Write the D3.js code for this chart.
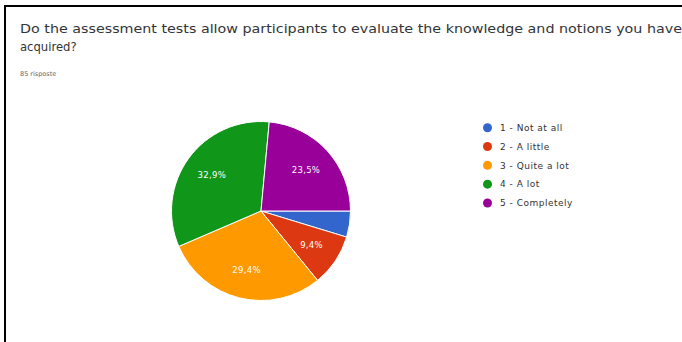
<!DOCTYPE html>
<html>
<head>
<meta charset="utf-8">
<script src="https://cdn.jsdelivr.net/npm/d3@7"></script>
<style>
  html, body { margin: 0; padding: 0; background: #fff; }
  svg { display: block; font-family: "DejaVu Sans", Roboto, Arial, sans-serif; }
</style>
</head>
<body>
<svg id="chart" width="682" height="342"></svg>
<script>
// Survey answers (85 responses)
const categories = ["1 - Not at all", "2 - A little", "3 - Quite a lot", "4 - A lot", "5 - Completely"];
const counts = [4, 8, 25, 28, 20];
const colors = ["#3366cc", "#dc3912", "#ff9900", "#109618", "#990099"];
const questionLines = [
  "Do the assessment tests allow participants to evaluate the knowledge and notions you have",
  "acquired?"
];
const responsesLabel = "85 risposte";

const svg = d3.select("#chart");
const W = 682, H = 342;

svg.append("rect").attr("width", W).attr("height", H).attr("fill", "#fff");

// Frame lines of the card
svg.append("line").attr("x1", 4).attr("x2", W).attr("y1", 6).attr("y2", 6)
  .attr("stroke", "#000").attr("stroke-width", 2);
svg.append("line").attr("x1", 5).attr("x2", 5).attr("y1", 5).attr("y2", H)
  .attr("stroke", "#000").attr("stroke-width", 2);

// Question title
const title = svg.append("g").attr("fill", "#333438");
title.append("text").attr("x", 20).attr("y", 33).attr("font-size", 11.6)
  .attr("textLength", 662).attr("lengthAdjust", "spacingAndGlyphs")
  .text(questionLines[0]);
title.append("text").attr("x", 20).attr("y", 51).attr("font-size", 11.6)
  .text(questionLines[1]);
svg.append("text").attr("x", 20).attr("y", 76).attr("font-size", 6.5)
  .attr("fill", "#5f6368").text(responsesLabel);

// Pie
const cx = 261, cy = 211, r = 89.5;
const total = d3.sum(counts);
const data = categories.map((c, i) => ({ cat: c, value: counts[i], color: colors[i] }));
const pie = d3.pie().value(d => d.value).sort(null)
  .startAngle(Math.PI / 2).endAngle(Math.PI / 2 + 2 * Math.PI);
const arcs = pie(data);
const arc = d3.arc().innerRadius(0).outerRadius(r);
const labelArc = d3.arc().innerRadius(r * 0.68).outerRadius(r * 0.68);

const g = svg.append("g").attr("transform", `translate(${cx},${cy})`);
g.selectAll("path").data(arcs).join("path")
  .attr("d", arc)
  .attr("fill", d => d.data.color)
  .attr("stroke", "#fff").attr("stroke-width", 1);

const fmt = v => (v * 100).toFixed(1).replace(".", ",") + "%";
g.selectAll("text").data(arcs.filter(d => d.data.value / total > 0.05)).join("text")
  .attr("transform", d => `translate(${labelArc.centroid(d)})`)
  .attr("text-anchor", "middle").attr("dy", "0.35em")
  .attr("font-size", 8.5).attr("letter-spacing", 0.3).attr("fill", "#fff")
  .text(d => fmt(d.data.value / total));

// Legend
const legendY = d3.scalePoint().domain(categories).range([127.7, 203]);
const lg = svg.append("g");
const item = lg.selectAll("g").data(data).join("g")
  .attr("transform", d => `translate(487.5,${legendY(d.cat)})`);
item.append("circle").attr("r", 4.5).attr("fill", d => d.color);
item.append("text").attr("x", 12.5).attr("dy", "0.35em")
  .attr("font-size", 9).attr("letter-spacing", 0.5).attr("fill", "#333").text(d => d.cat);
</script>
</body>
</html>
